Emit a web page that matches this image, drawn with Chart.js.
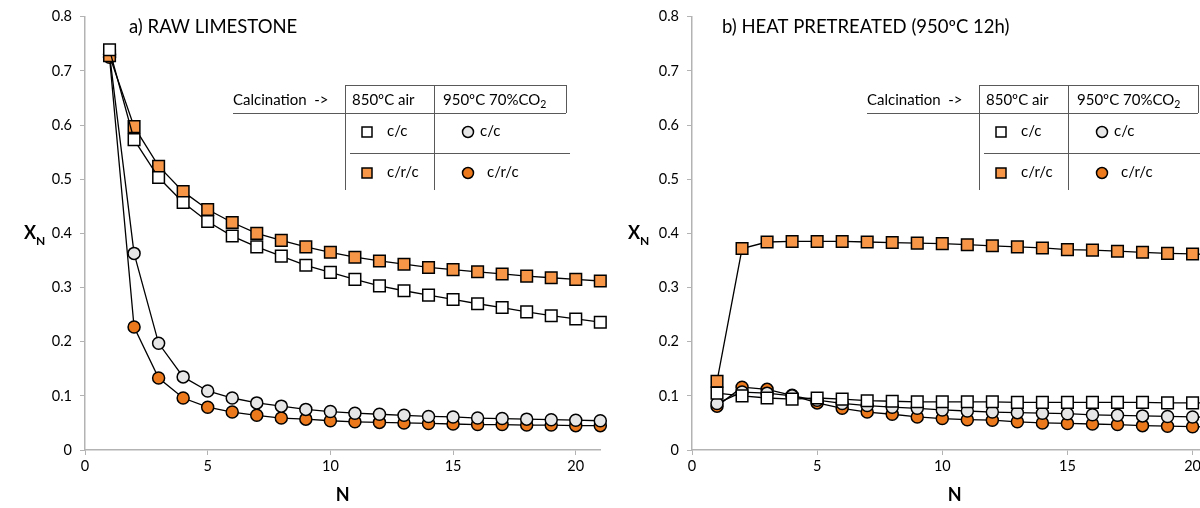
<!DOCTYPE html>
<html>
<head>
<meta charset="utf-8">
<script src="https://cdn.jsdelivr.net/npm/chart.js@4.4.1/dist/chart.umd.min.js"></script>
<style>
  html, body { margin: 0; padding: 0; background: #fff; overflow: hidden; }
  #wrap { position: relative; width: 1200px; height: 508px; overflow: hidden; }
  canvas { position: absolute; top: 0; }
</style>
</head>
<body>
<div id="wrap">
  <canvas id="chartA" width="610" height="508" style="left:0"></canvas>
  <canvas id="chartB" width="620" height="508" style="left:610px"></canvas>
</div>
<script>
"use strict";

// cycle number N
var cycles = [1, 2, 3, 4, 5, 6, 7, 8, 9, 10, 11, 12, 13, 14, 15, 16, 17, 18, 19, 20, 21];

// a) raw limestone
var rawAirCC   = [0.739, 0.573, 0.503, 0.457, 0.422, 0.395, 0.375, 0.358, 0.341, 0.328, 0.315, 0.303, 0.294, 0.286, 0.278, 0.270, 0.263, 0.255, 0.248, 0.242, 0.236];
var rawAirCRC  = [0.728, 0.597, 0.524, 0.477, 0.444, 0.420, 0.400, 0.387, 0.375, 0.365, 0.356, 0.349, 0.343, 0.337, 0.333, 0.329, 0.325, 0.321, 0.318, 0.315, 0.312];
var rawCo2CC   = [0.730, 0.363, 0.197, 0.135, 0.109, 0.096, 0.087, 0.081, 0.075, 0.071, 0.068, 0.066, 0.064, 0.062, 0.061, 0.059, 0.058, 0.057, 0.056, 0.055, 0.054];
var rawCo2CRC  = [0.725, 0.227, 0.133, 0.096, 0.079, 0.070, 0.064, 0.059, 0.057, 0.054, 0.052, 0.051, 0.050, 0.049, 0.048, 0.047, 0.047, 0.046, 0.046, 0.045, 0.045];

// b) heat pretreated (950ºC 12h)
var preAirCC   = [0.105, 0.100, 0.096, 0.094, 0.096, 0.094, 0.091, 0.090, 0.089, 0.089, 0.089, 0.089, 0.088, 0.088, 0.088, 0.088, 0.088, 0.088, 0.087, 0.087, 0.087];
var preAirCRC  = [0.127, 0.372, 0.384, 0.385, 0.385, 0.385, 0.384, 0.383, 0.382, 0.381, 0.379, 0.377, 0.375, 0.373, 0.370, 0.369, 0.367, 0.365, 0.363, 0.362, 0.360];
var preCo2CC   = [0.086, 0.107, 0.105, 0.100, 0.092, 0.086, 0.082, 0.079, 0.077, 0.074, 0.072, 0.070, 0.069, 0.068, 0.067, 0.065, 0.064, 0.063, 0.062, 0.061, 0.060];
var preCo2CRC  = [0.081, 0.116, 0.112, 0.101, 0.087, 0.077, 0.070, 0.066, 0.061, 0.058, 0.056, 0.055, 0.052, 0.050, 0.049, 0.048, 0.047, 0.045, 0.044, 0.043, 0.042];

var xTicks = [0, 5, 10, 15, 20];
var yTicks = [0, 0.1, 0.2, 0.3, 0.4, 0.5, 0.6, 0.7, 0.8];

var FONT = "Lato, 'Open Sans', sans-serif";
var ORANGE_SQ = "#F79646";
var ORANGE_CI = "#EC7A1C";
var GREY_CI = "#E6E6E6";
var AXIS = "#B3B3B3";

function pts(values) {
    return cycles.map(function (n, i) { return {x: n, y: values[i]}; });
}

function series(label, values, style, fill) {
    return {
        label: label,
        data: pts(values),
        borderColor: "#000",
        borderWidth: 1.3,
        pointStyle: style,
        pointRadius: style === "rect" ? 8.2 : 6,
        pointBorderWidth: 1.5,
        pointBorderColor: "#000",
        pointBackgroundColor: fill,
        tension: 0,
        clip: false
    };
}

function marker(ctx, kind, fill, x, y) {
    ctx.save();
    ctx.fillStyle = fill;
    ctx.strokeStyle = "#000";
    ctx.lineWidth = 1.5;
    ctx.beginPath();
    if (kind === "rect") ctx.rect(x - 5, y - 5, 10, 10);
    else ctx.arc(x, y, 5.5, 0, Math.PI * 2);
    ctx.fill();
    ctx.stroke();
    ctx.restore();
}

// title, X_N label and the calcination table, drawn on top
function panelPlugin(t) {
    return {
        id: "panel",
        afterDraw: function (chart) {
            var ctx = chart.ctx;
            ctx.save();
            ctx.fillStyle = "#000";
            ctx.textBaseline = "alphabetic";
            ctx.font = "18.5px " + FONT;
            ctx.fillText(t.title, t.titleX, 33);

            ctx.font = "bold 18px " + FONT;
            ctx.fillText("X", t.xnX, 239);
            var w = ctx.measureText("X").width;
            ctx.font = "bold 12px " + FONT;
            ctx.fillText("N", t.xnX + w, 245);

            // table lines
            var o = t.tx;
            ctx.strokeStyle = "#595959";
            ctx.lineWidth = 1;
            ctx.beginPath();
            ctx.moveTo(o, 113.5); ctx.lineTo(o + t.w, 113.5);
            ctx.moveTo(o + 112, 85.5); ctx.lineTo(o + t.w, 85.5);
            ctx.moveTo(o + 112.5, 85); ctx.lineTo(o + 112.5, 190);
            ctx.moveTo(o + 201.5, 85); ctx.lineTo(o + 201.5, 190);
            ctx.moveTo(o + t.w + 0.5, 85); ctx.lineTo(o + t.w + 0.5, 113);
            ctx.moveTo(o + 117, 153.5); ctx.lineTo(o + t.w + 4, 153.5);
            ctx.stroke();

            ctx.font = "15px " + FONT;
            ctx.textBaseline = "middle";
            ctx.fillText("Calcination  ->", o, 100);
            ctx.fillText("850ºC air", o + 119, 100);
            var head = "950ºC 70%CO";
            ctx.fillText(head, o + 210, 100);
            var hw = ctx.measureText(head).width;
            ctx.font = "10.5px " + FONT;
            ctx.fillText("2", o + 210 + hw, 105);

            ctx.font = "15px " + FONT;
            marker(ctx, "rect", "#fff", o + 134, 132);
            ctx.fillText("c/c", o + 154, 131);
            marker(ctx, "circle", GREY_CI, o + 235, 132);
            ctx.fillText("c/c", o + 247, 131);
            marker(ctx, "rect", ORANGE_SQ, o + 134, 173);
            ctx.fillText("c/r/c", o + 154, 172);
            marker(ctx, "circle", ORANGE_CI, o + 235, 173);
            ctx.fillText("c/r/c", o + 254, 172);
            ctx.restore();
        }
    };
}

function makeChart(id, sets, yWidth, padRight, t) {
    var ctx = document.getElementById(id).getContext("2d");
    return new Chart(ctx, {
        type: "line",
        data: {
            datasets: [
                series("850ºC air c/c", sets[0], "rect", "#fff"),
                series("850ºC air c/r/c", sets[1], "rect", ORANGE_SQ),
                series("950ºC 70%CO2 c/c", sets[2], "circle", GREY_CI),
                series("950ºC 70%CO2 c/r/c", sets[3], "circle", ORANGE_CI)
            ]
        },
        options: {
            responsive: false,
            animation: false,
            layout: {padding: {top: 16, right: padRight, bottom: 0, left: 0}},
            plugins: {legend: {display: false}, tooltip: {enabled: false}},
            scales: {
                x: {
                    type: "linear",
                    min: 0,
                    max: 21,
                    afterBuildTicks: function (s) { s.ticks = xTicks.map(function (v) { return {value: v}; }); },
                    afterFit: function (s) { s.height = 58; },
                    grid: {drawOnChartArea: false, color: AXIS, tickLength: 5},
                    border: {color: AXIS, width: 1.5},
                    ticks: {font: {family: FONT, size: 14.5}, color: "#000", padding: 3},
                    title: {display: true, text: "N", font: {family: FONT, size: 18, weight: "bold"}, color: "#000", padding: {top: 0, bottom: 2}}
                },
                y: {
                    min: 0,
                    max: 0.8,
                    afterBuildTicks: function (s) { s.ticks = yTicks.map(function (v) { return {value: v}; }); },
                    afterFit: function (s) { s.width = yWidth; },
                    grid: {drawOnChartArea: false, color: AXIS, tickLength: 5},
                    border: {color: AXIS, width: 1.5},
                    ticks: {
                        font: {family: FONT, size: 14.5},
                        color: "#000",
                        padding: 8,
                        callback: function (v) { return v === 0 ? "0" : v.toFixed(1); }
                    }
                }
            }
        },
        plugins: [panelPlugin(t)]
    });
}

makeChart("chartA", [rawAirCC, rawAirCRC, rawCo2CC, rawCo2CRC], 85, 9.4,
    {title: "a) RAW LIMESTONE", titleX: 129, xnX: 24, tx: 233, w: 333});
makeChart("chartB", [preAirCC, preAirCRC, preCo2CC, preCo2CRC], 82, 12.4,
    {title: "b) HEAT PRETREATED (950ºC 12h)", titleX: 112, xnX: 18, tx: 257, w: 331});
</script>
</body>
</html>
